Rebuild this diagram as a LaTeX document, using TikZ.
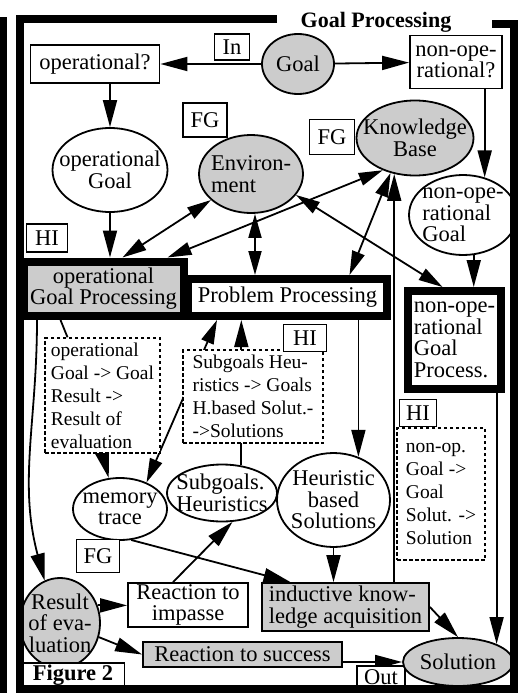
\documentclass[tikz,border=0pt]{standalone}
\usepackage{fontspec}
\setmainfont{Liberation Serif}
\usetikzlibrary{shapes.geometric,arrows.meta,backgrounds}
\definecolor{gfill}{gray}{0.8}
\newcommand\mfs{\fontsize{22.5}{21.5}\selectfont}
\newcommand\sfs{\fontsize{19.5}{23}\selectfont}
\tikzset{
  every node/.style={font=\mfs, inner sep=0pt},
  ell/.style={ellipse, draw, line width=1.8pt, fill=white},
  gell/.style={ell, fill=gfill},
  etxt/.style={label={[align=center,font=\mfs]center:{#1}}},
  ltxt/.style={label={[align=left,font=\mfs]center:{#1}}},
  box/.style={rectangle, draw, line width=1.8pt, fill=white, align=center},
  gbox/.style={box, fill=gfill},
  tbox/.style={rectangle, draw, line width=8pt, fill=white, align=center},
  dbox/.style={rectangle, draw, line width=1.5pt, dash pattern=on 3.5pt off 2.5pt, fill=white, align=left, font=\sfs},
  arr/.style={line width=1.8pt, -{Triangle[length=27pt,width=14pt]}},
  darr/.style={line width=1.8pt, {Triangle[length=24pt,width=13pt]}-{Triangle[length=24pt,width=13pt]}},
  con/.style={line width=1.8pt}
}
\begin{document}
\begin{tikzpicture}[x=1pt,y=-1pt]
\useasboundingbox (0,0) rectangle (524,693);
% nodes
\node[anchor=base,font=\bfseries\fontsize{22}{22}\selectfont] (title) at (376,28) {Goal Processing};
\node[box,minimum width=35pt,minimum height=26pt] (in) at (232,47) {In};
\node[gell,minimum width=72pt,minimum height=60pt,etxt={Goal}] (goal) at (298,64) {};
\node[box,minimum width=129pt,minimum height=38pt] (opq) at (95,64) {operational?};
\node[box,minimum width=92pt,minimum height=53pt] (nopq) at (456,62) {non-ope-\\rational?};
\node[box,minimum width=44pt,minimum height=34pt] (fg1) at (205,120) {FG};
\node[ell,minimum width=115pt,minimum height=84pt,etxt={operational\\Goal}] (opgoal) at (110,170) {};
\node[gell,minimum width=104pt,minimum height=78pt,ltxt={Environ-\\ment}] (env) at (251,174) {};
\node[box,minimum width=45pt,minimum height=35pt] (fg2) at (332,137) {FG};
\node[gell,minimum width=117pt,minimum height=75pt,etxt={Knowledge\\Base}] (kb) at (415,138) {};
\node[ell,minimum width=108pt,minimum height=80pt,ltxt={non-ope-\\rational\\Goal}] (nopgoal) at (463,215) {};
\node[box,minimum width=41pt,minimum height=28pt] (hi1) at (47,238) {HI};
\node[tbox,fill=gfill,minimum width=160pt,minimum height=54.5pt] (opgp) at (103.5,288.75) {operational\\Goal Processing};
\node[tbox,minimum width=199pt,minimum height=37pt] (pp) at (287.5,297.5) {Problem Processing};
\node[tbox,minimum width=93pt,minimum height=98pt,align=left] (nopgp) at (454.5,340) {non-ope-\\rational\\Goal\\Process.};
\node[dbox,minimum width=115pt,minimum height=115pt] (opdash) at (102.5,395.5) {operational\\Goal -> Goal\\Result ->\\Result of\\evaluation};
\node[dbox,minimum width=140pt,minimum height=93pt] (subdash) at (253,396.5) {Subgoals Heu-\\ristics -> Goals\\H.based Solut.-\\->Solutions};
\node[box,minimum width=43pt,minimum height=27pt] (hi2) at (305,338) {HI};
\node[box,minimum width=37pt,minimum height=27pt] (hi3) at (418,413) {HI};
\node[dbox,minimum width=88pt,minimum height=132pt] (nopdash) at (441,494) {non-op.\\Goal ->\\Goal\\Solut. ->\\Solution};
\node[ell,minimum width=94pt,minimum height=62pt,etxt={memory\\trace}] (memory) at (120,509) {};
\node[ell,minimum width=110pt,minimum height=57pt,ltxt={Subgoals.\\Heuristics}] (subh) at (222,493) {};
\node[ell,minimum width=113pt,minimum height=94pt,etxt={Heuristic\\based\\Solutions}] (hbs) at (333.5,500) {};
\node[box,minimum width=43pt,minimum height=33pt] (fg3) at (98,556) {FG};
\node[gell,minimum width=80pt,minimum height=90pt,etxt={Result\\of eva-\\luation}] (result) at (60,623) {};
\node[box,minimum width=120pt,minimum height=44pt] (rimpasse) at (188,605) {Reaction to\\impasse};
\node[gbox,minimum width=167pt,minimum height=48pt,align=left] (indk) at (345.5,607) {inductive know-\\ledge acquisition};
\node[gbox,minimum width=199pt,minimum height=25pt] (rsuccess) at (242.5,654.5) {Reaction to success};
\node[box,minimum width=103pt,minimum height=24pt,font=\bfseries\mfs] (fig) at (73,675) {Figure 2};
\node[box,minimum width=48pt,minimum height=22pt] (out) at (381,677) {Out};
\node[gell,minimum width=110pt,minimum height=48pt,etxt={Solution}] (solution) at (458,662) {};
% connectors
\begin{pgfonlayer}{background}
\draw[arr] (goal) -- (opq);
\draw[arr] (goal) -- (nopq);
\draw[arr] (opq.south -| opgoal.north) -- (opgoal.north);
\draw[arr] (nopq.south -| nopgoal.60) -- (nopgoal.60);
\draw[arr] (opgoal.south) -- (opgoal.south |- opgp.north);
\draw[arr] (nopgoal.285) -- (nopgoal.285 |- nopgp.north);
\draw[darr] ([xshift=19pt]opgp.north) -- (env);
\draw[darr] ([xshift=64pt]opgp.north) -- (kb.225);
\draw[darr] ([xshift=4pt]env.south) -- ([xshift=4pt]env.south |- pp.north);
\draw[darr] ([xshift=62pt]pp.north) -- (kb.235);
\draw[darr] (env.-25) -- ([xshift=-12pt]nopgp.north);
\draw[arr] (pp.south -| hbs.60) -- (hbs.60);
\draw[arr] (hbs.south) -- (hbs.south |- indk.north);
\draw[arr] (indk.north -| kb.240) -- (kb.240);
\draw[arr] (nopgp.south -| solution.25) -- (solution.25);
\draw[arr] (indk.east) -- (solution.north);
\draw[arr] (rsuccess.east |- solution.west) -- (solution.west);
\draw[arr] (result.25) -- (result.25 -| rimpasse.west);
\draw[arr] (result.-20) -- (rsuccess.west);
\draw[arr] ([xshift=-66.5pt]opgp.south) to[out=-90,in=105] (result.110);
\draw[con] ([xshift=-43pt]opgp.south) -- ([xshift=-35pt]opdash.north);
\draw[arr] (opdash.south) -- (memory.110);
\draw[darr] (memory.45) -- ([xshift=-70.5pt]pp.south);
\draw[arr] (subh.55) -- (subh.55 |- pp.south);
\draw[arr] ([xshift=-15pt]rimpasse.north) -- (subh.-70);
\draw[arr] (memory.-70) -- ([xshift=-55pt]indk.north);
\end{pgfonlayer}
% frame
\fill (0,17) rectangle (7,693);
\draw[line width=8pt, line join=miter] (277,19) -- (20,19) -- (20,689) -- (514,689) -- (514,24) -- (492,24);
\end{tikzpicture}
\end{document}
